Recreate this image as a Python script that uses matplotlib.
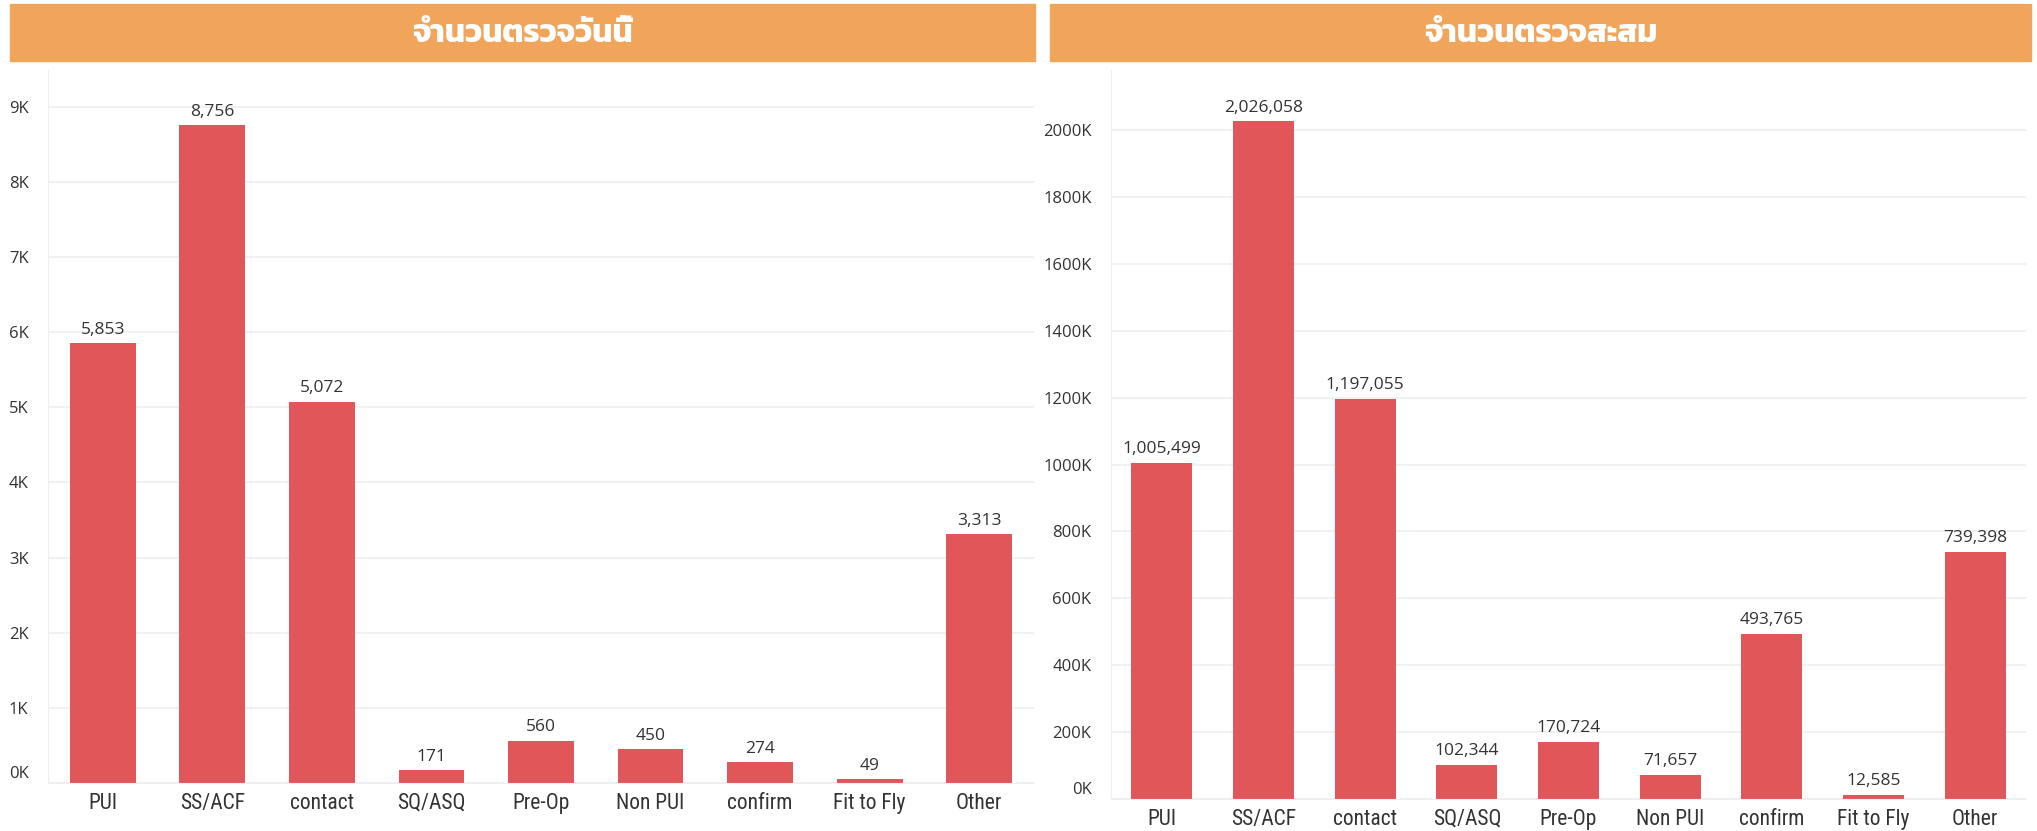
import matplotlib
matplotlib.use('Agg')
import matplotlib.pyplot as plt
from matplotlib import font_manager as fm
from matplotlib.ft2font import FT2Font
from matplotlib.transforms import ScaledTranslation
from matplotlib.ticker import FuncFormatter

categories = ['PUI', 'SS/ACF', 'contact', 'SQ/ASQ', 'Pre-Op', 'Non PUI', 'confirm', 'Fit to Fly', 'Other']
today_vals = [5853, 8756, 5072, 171, 560, 450, 274, 49, 3313]
total_vals = [1005499, 2026058, 1197055, 102344, 170724, 71657, 493765, 12585, 739398]
title_today = 'จำนวนตรวจวันนี้'
title_total = 'จำนวนตรวจสะสม'


def has_font(name):
    return any(f.name == name for f in fm.fontManager.ttflist)


def is_bold(f):
    w = f.weight
    if isinstance(w, str):
        return w in ('bold', 'heavy', 'extra bold', 'black', 'semibold', 'demibold')
    return w >= 600


def thai_font():
    # find a Thai-capable family that ships a bold face
    thai = {}
    for f in fm.fontManager.ttflist:
        try:
            if 0x0E08 in FT2Font(f.fname).get_charmap():
                thai.setdefault(f.name, []).append(f)
        except Exception:
            pass
    prefer = ['Noto Sans Thai', 'Kanit', 'Prompt', 'Sarabun', 'IBM Plex Sans Thai',
              'Noto Sans Thai Looped', 'Mitr', 'Chakra Petch']
    for p in prefer:
        if p in thai and any(is_bold(f) for f in thai[p]):
            return p
    for name, faces in thai.items():
        if any(is_bold(f) for f in faces):
            return name
    for p in prefer:
        if p in thai:
            return p
    return next(iter(thai), 'DejaVu Sans')


TH = thai_font()
LAT = 'Open Sans' if has_font('Open Sans') else 'DejaVu Sans'
NARROW = 'Roboto Condensed' if has_font('Roboto Condensed') else LAT

BAR = '#E15759'
HEAD = '#F0A55B'
GRID = '#EFEFEF'
TXT = '#333333'

fig = plt.figure(figsize=(20.37, 8.31), dpi=100)
W, H = 2037, 831


def header(x0, x1, title):
    fig.patches.append(plt.Rectangle((x0 / W, 1 - 61 / H), (x1 - x0) / W, 57 / H,
                                     transform=fig.transFigure, color=HEAD, zorder=0))
    fig.text((x0 + x1) / 2 / W, 1 - 34 / H, title, ha='center', va='center',
             color='white', fontsize=23, fontweight='bold', family=[TH, 'DejaVu Sans'])


def draw(ax, vals, step, nticks, ytop):
    x = range(len(categories))
    ax.bar(x, vals, width=0.6, color=BAR, zorder=2)
    ax.set_xlim(-0.5, len(categories) - 0.5)
    ax.set_ylim(0, ytop)
    ax.set_yticks([i * step for i in range(nticks)])
    ax.yaxis.set_major_formatter(FuncFormatter(lambda v, p: f'{int(v / 1000)}K'))
    ax.grid(axis='y', color=GRID, linewidth=1.2, zorder=0)
    for s in ['top', 'right']:
        ax.spines[s].set_visible(False)
    ax.spines['left'].set_color(GRID)
    ax.spines['bottom'].set_color(GRID)
    ax.tick_params(axis='both', length=0, colors=TXT)
    ax.tick_params(axis='y', labelsize=12, pad=14)
    ax.tick_params(axis='x', labelsize=15.5, pad=7)
    ax.set_xticks(list(x))
    ax.set_xticklabels(categories, family=[NARROW, 'DejaVu Sans'])
    for t in ax.get_yticklabels():
        t.set_family([LAT, 'DejaVu Sans'])
    # Tableau keeps the 0 label inside the axis
    lab0 = ax.get_yticklabels()[0]
    lab0.set_transform(lab0.get_transform() + ScaledTranslation(0, 8 / 72, fig.dpi_scale_trans))
    for i, v in enumerate(vals):
        ax.annotate(f'{v:,}', (i, v), xytext=(0, 4), textcoords='offset points',
                    ha='center', va='bottom', fontsize=12.5, color=TXT,
                    family=[LAT, 'DejaVu Sans'])


# left panel
header(10, 1035, title_today)
ax1 = fig.add_axes([48 / W, 1 - 783 / H, (1034 - 48) / W, (783 - 70) / H])
draw(ax1, today_vals, 1000, 10, 9.49e3)

# right panel
header(1050, 2031, title_total)
ax2 = fig.add_axes([1111 / W, 1 - 799 / H, (2026 - 1111) / W, (799 - 70) / H])
draw(ax2, total_vals, 200000, 11, 2.18e6)

fig.savefig('out.png', dpi=100)
